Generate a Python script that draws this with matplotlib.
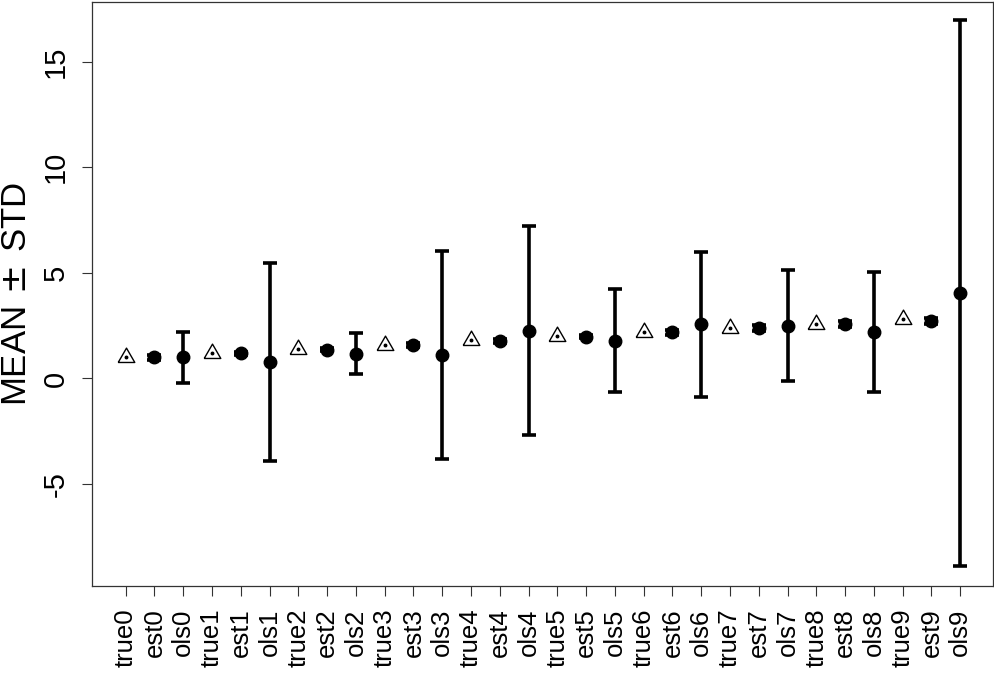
import numpy as np
import matplotlib.pyplot as plt

# values
true_vals = [1.0, 1.2, 1.4, 1.6, 1.8, 2.0, 2.2, 2.4, 2.6, 2.8]
est_mean = [1.00, 1.19, 1.37, 1.58, 1.78, 1.98, 2.18, 2.38, 2.58, 2.74]
est_std = [0.12, 0.07, 0.07, 0.08, 0.08, 0.08, 0.10, 0.15, 0.15, 0.14]
ols_mean = [1.00, 0.76, 1.17, 1.10, 2.27, 1.78, 2.56, 2.50, 2.20, 4.05]
ols_std = [1.20, 4.69, 0.98, 4.92, 4.93, 2.44, 3.42, 2.63, 2.85, 12.95]

n = len(true_vals)
labels = []
for k in range(n):
    labels += ['true%d' % k, 'est%d' % k, 'ols%d' % k]

plt.rcParams['font.family'] = ['Liberation Sans', 'DejaVu Sans']

fig = plt.figure(figsize=(9.95, 6.73), dpi=100)
ax = fig.add_axes([0.0925, 0.129, 0.9055, 0.868])

x = np.arange(1, 3 * n + 1)
x_true = x[0::3]
x_est = x[1::3]
x_ols = x[2::3]

err_kw = dict(fmt='o', color='black', ms=9, elinewidth=2.6, capsize=4.8,
              capthick=2.6, zorder=3)
ax.errorbar(x_est, est_mean, yerr=est_std, **err_kw)
ax.errorbar(x_ols, ols_mean, yerr=ols_std, **err_kw)

# open triangle with a dot in the middle for the true values
tri = [(-1.0, -0.6), (1.0, -0.6), (0.0, 1.13), (-1.0, -0.6)]
ax.plot(x_true, true_vals, linestyle='none', marker=tri, ms=13.5,
        mfc='white', mec='black', mew=1.0, zorder=3)
ax.plot(x_true, true_vals, linestyle='none', marker='o', ms=1.8,
        color='black', zorder=4)

ax.set_xlim(-0.17, 31.14)
ax.set_ylim(-9.84, 17.83)
ax.set_xticks(x)
ax.set_xticklabels(labels, rotation=90, fontsize=18.5)
ax.set_yticks([-5, 0, 5, 10, 15])
ax.set_yticklabels(['-5', '0', '5', '10', '15'], rotation=90, fontsize=21,
                   va='center')
ax.tick_params(axis='both', direction='out', length=7, width=0.8,
               color='#333333')
ax.tick_params(axis='x', pad=9)
ax.tick_params(axis='y', pad=9)
ax.set_ylabel('MEAN$\\,\\pm\\,$STD', fontsize=25, labelpad=6)
for s in ax.spines.values():
    s.set_linewidth(0.9)
    s.set_color('#333333')

fig.savefig('out.png', dpi=100)
